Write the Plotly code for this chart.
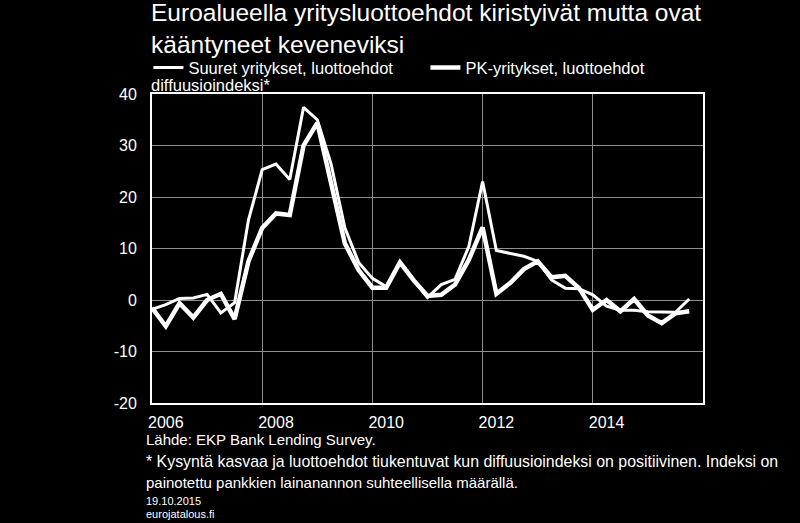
import plotly.graph_objects as go

# Quarterly data, 2005Q4 ... 2015Q3 (40 quarters)
quarters = [f"{y}Q{q}" for y in range(2005, 2016) for q in range(1, 5)][3:43]

suuret = [-1.8, -0.9, 0.3, 0.4, 1.1, -2.5, -0.5, 15.5, 25.3, 26.4,
          23.4, 37.4, 35.0, 26.4, 14.0, 7.3, 4.2, 2.6, 7.3, 3.9,
          0.5, 3.0, 4.0, 10.4, 23.0, 9.6, 9.1, 8.5, 7.5, 3.9,
          2.3, 2.2, 1.0, -1.2, -2.0, -2.0, -2.3, -2.4, -2.4, 0.2]

pk = [-1.5, -5.1, -0.6, -3.4, 0.0, 1.2, -3.7, 7.5, 14.0, 16.8,
      16.5, 30.0, 34.4, 22.5, 11.0, 5.8, 2.4, 2.4, 7.3, 3.8,
      0.8, 1.0, 3.0, 7.8, 14.1, 1.2, 3.3, 6.0, 7.5, 4.4,
      4.7, 2.3, -1.9, 0.0, -2.2, 0.2, -3.0, -4.5, -2.6, -2.2]

x_tick_years = [2006, 2008, 2010, 2012, 2014]
x_grid_positions = [2007.75, 2009.75, 2011.75, 2013.75]
y_ticks = [-20, -10, 0, 10, 20, 30, 40]

title_text = "Euroalueella yritysluottoehdot kiristyivät mutta ovat<br>kääntyneet keveneviksi"
name_suuret = "Suuret yritykset, luottoehdot"
name_pk = "PK-yritykset, luottoehdot"


def q_to_num(q):
    y, n = q.split("Q")
    return int(y) + (int(n) - 1) / 4


xs = [q_to_num(q) for q in quarters]

FONT = "Liberation Sans, Arial, sans-serif"
GRID = "#8f8f8f"

fig = go.Figure()
fig.add_trace(go.Scatter(x=xs, y=suuret, mode="lines", name=name_suuret,
                         line=dict(color="white", width=3)))
fig.add_trace(go.Scatter(x=xs, y=pk, mode="lines", name=name_pk,
                         line=dict(color="white", width=4.5)))

fig.update_layout(
    width=800, height=523,
    margin=dict(l=152, r=97, t=94, b=120),
    paper_bgcolor="black", plot_bgcolor="black",
    font=dict(family=FONT, color="white", size=16),
    showlegend=True,
    legend=dict(orientation="h", x=-0.0065, xanchor="left", y=1.085, yanchor="middle",
                font=dict(size=16.5, color="white"), bgcolor="rgba(0,0,0,0)",
                entrywidth=232, entrywidthmode="pixels", itemwidth=30,
                tracegroupgap=0),
    xaxis=dict(range=[2005.75, 2015.75], tickmode="array",
               tickvals=x_tick_years, ticktext=[str(v) for v in x_tick_years],
               showgrid=False, zeroline=False,
               showline=True, linecolor="white", linewidth=2, mirror=True,
               ticks="outside", ticklen=4, tickcolor="black",
               tickfont=dict(size=16),
               minor=dict(tickmode="array", tickvals=x_grid_positions,
                          showgrid=True, gridcolor=GRID, gridwidth=1, ticks="")),
    yaxis=dict(range=[-20, 40], tickmode="array", tickvals=y_ticks,
               ticktext=[str(v) for v in y_ticks],
               showgrid=True, gridcolor=GRID, gridwidth=1, zeroline=False,
               showline=True, linecolor="white", linewidth=2, mirror=True,
               ticks="outside", ticklen=10, tickcolor="black",
               tickfont=dict(size=16)),
)

H = 308.7  # plot height in px


def py(ypx):
    return (403 - ypx) / H


fig.add_annotation(text=title_text, xref="paper", yref="paper", x=0, y=py(29),
                   xanchor="left", yanchor="middle", align="left", showarrow=False,
                   xshift=-3, font=dict(size=24.5, color="white", family=FONT))
fig.add_annotation(text="diffuusioindeksi*", xref="paper", yref="paper", x=0, y=py(85),
                   xanchor="left", yanchor="middle", showarrow=False,
                   xshift=-3, font=dict(size=16.5, color="white", family=FONT))

notes = [
    ("Lähde: EKP Bank Lending Survey.", 439, 15),
    ("* Kysyntä kasvaa ja luottoehdot tiukentuvat kun diffuusioindeksi on positiivinen. Indeksi on", 461, 15.9),
    ("painotettu pankkien lainanannon suhteellisella määrällä.", 482, 15),
    ("19.10.2015", 501, 11),
    ("eurojatalous.fi", 514, 11),
]
for text, ypx, size in notes:
    fig.add_annotation(text=text, xref="paper", yref="paper", x=0, y=py(ypx),
                       xanchor="left", yanchor="middle", showarrow=False,
                       xshift=-8, font=dict(size=size, color="white", family=FONT))

fig.write_html(
    "out.html",
    config={"displayModeBar": False},
    post_script="document.body.style.margin='0';document.body.style.background='black';",
)
